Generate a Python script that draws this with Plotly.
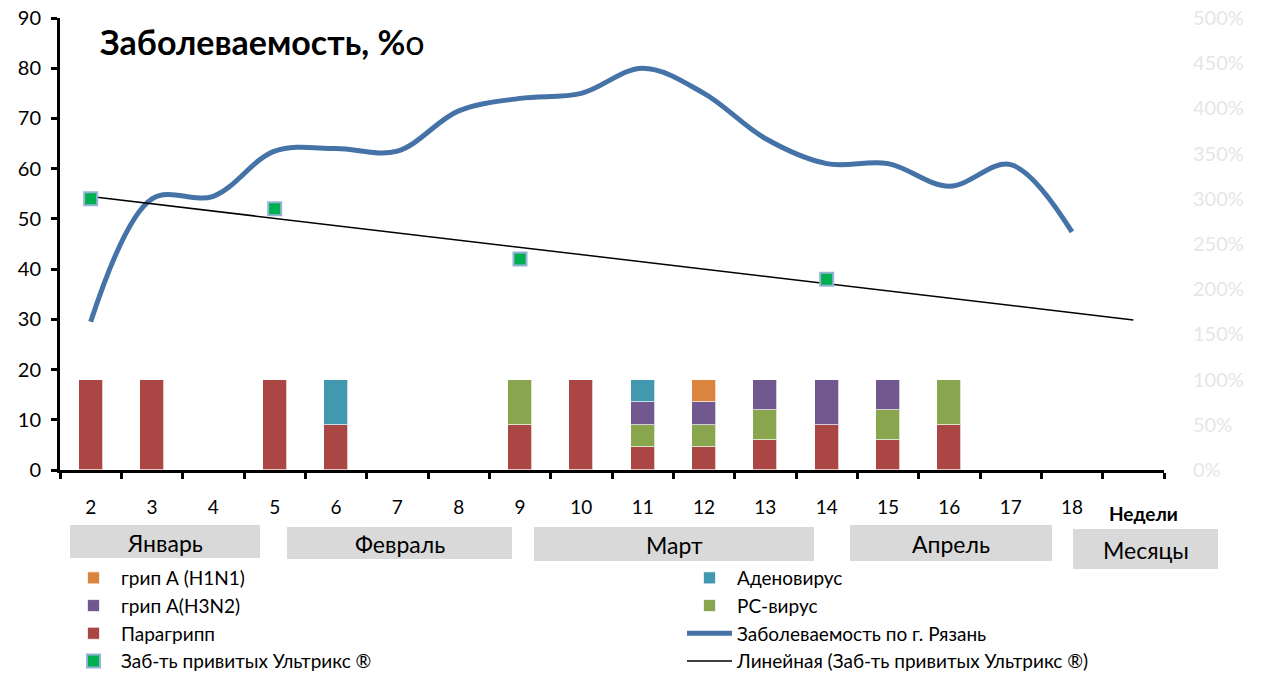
import numpy as np
import plotly.graph_objects as go

# ---------------- data ----------------
weeks = [2, 3, 4, 5, 6, 7, 8, 9, 10, 11, 12, 13, 14, 15, 16, 17, 18]
week_labels = [str(w) for w in weeks]

# share of detected viruses per week, % (secondary axis 0-500 %)
paragripp = [100, 100, 0, 100, 50, 0, 0, 50, 100, 25, 25, 33.3, 50, 33.3, 50, 0, 0]
rs_virus = [0, 0, 0, 0, 0, 0, 0, 50, 0, 25, 25, 33.3, 0, 33.3, 50, 0, 0]
h3n2 = [0, 0, 0, 0, 0, 0, 0, 0, 0, 25, 25, 33.4, 50, 33.4, 0, 0, 0]
adeno = [0, 0, 0, 0, 50, 0, 0, 0, 0, 25, 0, 0, 0, 0, 0, 0, 0]
h1n1 = [0, 0, 0, 0, 0, 0, 0, 0, 0, 0, 25, 0, 0, 0, 0, 0, 0]

# incidence in Ryazan, per mille
incidence = [29.5, 54, 54.5, 63.5, 64, 63.5, 71.5, 74, 75, 80, 75, 66, 61, 61, 56.5, 60.8, 47.4]

# incidence among vaccinated (Ultrix)
vacc_weeks = [2, 5, 9, 14]
vacc_values = [54, 52, 42, 38]
trend_end_week = 19

months = ["Январь", "Февраль", "Март", "Апрель", "Месяцы"]

# ---------------- figure ----------------
OFF = 8  # default page body margin
W, H = 1267 - OFF, 677 - OFF
L, T = 60 - OFF, 18 - OFF
PW, PH = 1104, 452
R, B = W - L - PW, H - T - PH

def px(x):
    return (x - OFF - L) / PW

def py(y):
    return (T + PH - (y - OFF)) / PH

FONT = "Lato, Calibri, 'Open Sans', sans-serif"

def nz(v):
    return [None if a == 0 else a for a in v]

fig = go.Figure()

# (name, values, colour, legend, rank)
bar_series = [
    ("Парагрипп", paragripp, "#AA4744", "legend", 3),
    ("РС-вирус", rs_virus, "#89A54E", "legend2", 2),
    ("грип А(H3N2)", h3n2, "#71588F", "legend", 2),
    ("Аденовирус", adeno, "#4198AF", "legend2", 1),
    ("грип А (H1N1)", h1n1, "#DB843D", "legend", 1),
]
for name, vals, col, leg, rank in bar_series:
    fig.add_trace(go.Bar(
        x=weeks, y=nz(vals), name=name, yaxis="y2", width=0.39,
        marker=dict(color=col, line=dict(color="rgba(255,255,255,0.7)", width=1)),
        legend=leg, legendrank=rank,
    ))

fig.add_trace(go.Scatter(
    x=weeks, y=incidence, name="Заболеваемость по г. Рязань", mode="lines",
    line=dict(color="#4572A7", width=5, shape="spline", smoothing=1.0),
    legend="legend2", legendrank=3,
))

coef = np.polyfit(vacc_weeks, vacc_values, 1)
tx = [vacc_weeks[0], trend_end_week]
ty = [float(np.polyval(coef, t)) for t in tx]
fig.add_trace(go.Scatter(
    x=tx, y=ty, name="Линейная (Заб-ть привитых Ультрикс ®)", mode="lines",
    line=dict(color="black", width=1.5), legend="legend2", legendrank=4,
))
fig.add_trace(go.Scatter(
    x=vacc_weeks, y=vacc_values, name="Заб-ть привитых Ультрикс ®", mode="markers",
    marker=dict(symbol="square", size=13, color="#00B050", line=dict(color="#95B3D7", width=2)),
    legend="legend", legendrank=4,
))

# month boxes (reference pixel coordinates)
boxes = [(70, 260, 525, 558), (287, 512, 527, 559), (534, 814, 527, 561),
         (850, 1052, 525, 561), (1073, 1218, 529, 569)]
shapes = []
annotations = []
for (x0, x1, y0, y1), name in zip(boxes, months):
    shapes.append(dict(type="rect", xref="paper", yref="paper",
                       x0=px(x0), x1=px(x1), y0=py(y1), y1=py(y0),
                       fillcolor="#D9D9D9", line=dict(width=0), layer="below"))
    annotations.append(dict(xref="paper", yref="paper", x=px((x0 + x1) / 2), y=py((y0 + y1) / 2 + 1),
                            text=name, showarrow=False, xanchor="center", yanchor="middle",
                            font=dict(family=FONT, size=23, color="black")))

annotations.append(dict(xref="paper", yref="paper", x=px(1143), y=py(514), text="<b>Недели</b>",
                        showarrow=False, xanchor="center", yanchor="middle",
                        font=dict(family=FONT, size=19, color="black")))
annotations.append(dict(xref="paper", yref="paper", x=px(98), y=py(41),
                        text="<b>Заболеваемость, %</b>о", showarrow=False,
                        xanchor="left", yanchor="middle",
                        font=dict(family=FONT, size=34, color="black")))

leg_common = dict(orientation="v", yanchor="top", xanchor="left", traceorder="normal",
                  font=dict(family=FONT, size=19, color="black"), itemwidth=45,
                  bgcolor="rgba(0,0,0,0)", tracegroupgap=0, borderwidth=0)

fig.update_layout(
    width=W, height=H, autosize=False,
    margin=dict(l=L, r=R, t=T, b=B, autoexpand=False),
    paper_bgcolor="white", plot_bgcolor="white",
    font=dict(family=FONT, size=19, color="black"),
    barmode="stack", bargap=0,
    showlegend=True,
    legend=dict(x=px(66), y=py(559), **leg_common),
    legend2=dict(x=px(682), y=py(559), **leg_common),
    xaxis=dict(range=[1.5, 19.5], tickmode="array", tickvals=weeks, ticktext=week_labels,
               ticks="", showline=True, linecolor="black", linewidth=3, showgrid=False,
               zeroline=False, ticklabelstandoff=18, ticklabeloverflow="allow",
               minor=dict(tickmode="array", tickvals=[w - 0.5 for w in weeks] + [18.5, 19.5],
                          ticks="outside", ticklen=6, tickwidth=3, tickcolor="black", showgrid=False),
               tickfont=dict(family=FONT, size=19, color="black")),
    yaxis=dict(range=[0, 90], dtick=10, tick0=0, showline=True, linecolor="black", linewidth=3,
               ticks="outside", ticklen=6, tickwidth=3, tickcolor="black", showgrid=False,
               zeroline=False, tickfont=dict(family=FONT, size=20, color="black"),
               ticklabelstandoff=6, ticklabeloverflow="allow"),
    yaxis2=dict(range=[0, 500], dtick=50, tick0=0, overlaying="y", side="right",
                ticksuffix="%", showline=False, showgrid=False, zeroline=False, ticks="",
                tickfont=dict(family=FONT, size=20, color="#E6E6E6"), ticklabelstandoff=28,
                ticklabeloverflow="allow"),
    shapes=shapes, annotations=annotations,
)

fig.write_html("out.html")
